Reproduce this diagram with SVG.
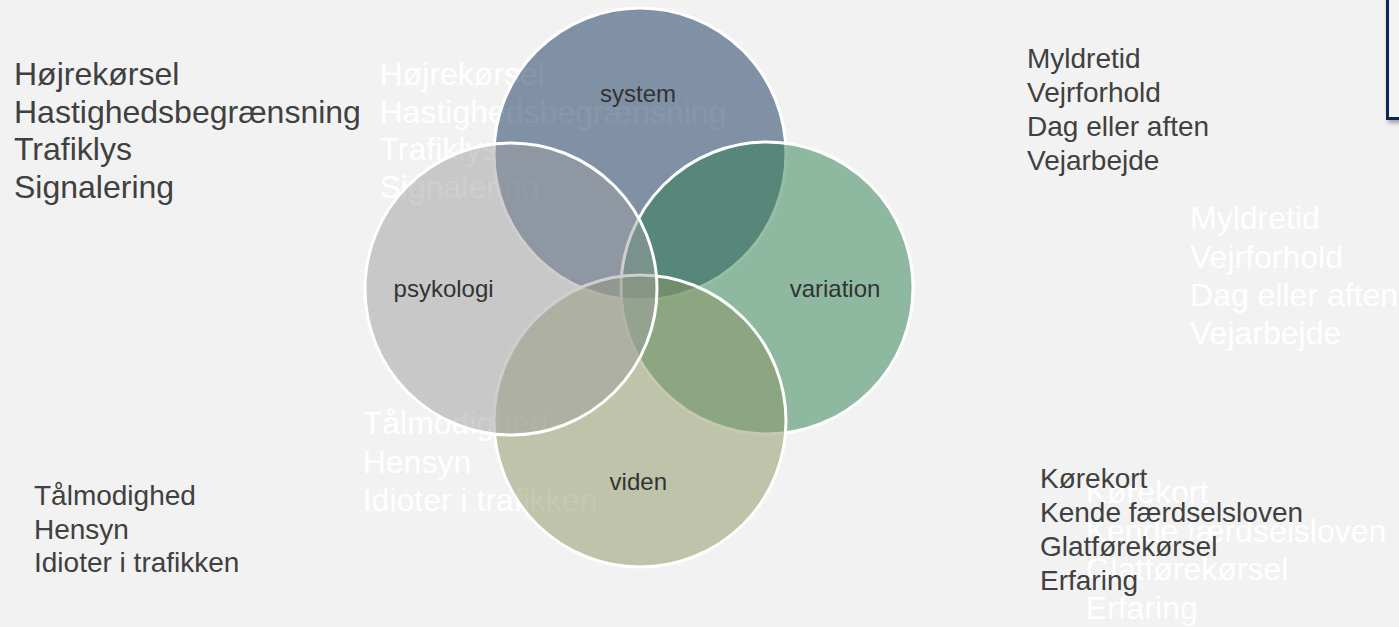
<svg xmlns="http://www.w3.org/2000/svg" width="1399" height="627" viewBox="0 0 1399 627">
  <defs>
    <style>
      .t { font-family: "Liberation Sans", Arial, sans-serif; }
      .dark { fill: #404040; }
      .ghost { fill: #ffffff; font-size: 32px; }
      .big { font-size: 32px; }
      .mid { font-size: 28px; }
      .lbl { font-family: "Liberation Sans", Arial, sans-serif; font-size: 24px; fill: #333333; text-anchor: middle; }
      .ring { stroke: #ffffff; stroke-width: 3; fill-opacity: 0.5; }
    </style>
    <filter id="shadow" x="-50%" y="-50%" width="200%" height="200%">
      <feGaussianBlur in="SourceAlpha" stdDeviation="2"/>
      <feOffset dx="2" dy="3" result="b"/>
      <feComponentTransfer><feFuncA type="linear" slope="0.35"/></feComponentTransfer>
      <feMerge><feMergeNode/><feMergeNode in="SourceGraphic"/></feMerge>
    </filter>
  </defs>

  <rect width="1399" height="627" fill="#f2f2f2"/>

  <!-- corner panel -->
  <g id="panel">
    <rect x="1387.5" y="-10" width="30" height="128.5" fill="#f4f4f4" stroke="#10285a" stroke-width="3" filter="url(#shadow)"/>
  </g>

  <!-- light echo lists, sitting beneath the circles -->
  <g id="ghost-lists" class="t ghost">
    <text x="379.5"><tspan x="379.5" y="85">Højrekørsel</tspan><tspan x="379.5" y="122.7">Hastighedsbegrænsning</tspan><tspan x="379.5" y="160.4">Trafiklys</tspan><tspan x="379.5" y="198.1">Signalering</tspan></text>
    <text x="1190"><tspan x="1190" y="229.3">Myldretid</tspan><tspan x="1190" y="267.5">Vejrforhold</tspan><tspan x="1190" y="305.7">Dag eller aften</tspan><tspan x="1190" y="344">Vejarbejde</tspan></text>
    <text x="362.7"><tspan x="362.7" y="434.3">Tålmodighed</tspan><tspan x="362.7" y="472.5">Hensyn</tspan><tspan x="362.7" y="510.7">Idioter i trafikken</tspan></text>
    <text x="1085.7"><tspan x="1085.7" y="503.3">Kørekort</tspan><tspan x="1085.7" y="541.8">Kende færdselsloven</tspan><tspan x="1085.7" y="580.3">Glatførekørsel</tspan><tspan x="1085.7" y="618.8">Erfaring</tspan></text>
  </g>

  <!-- Venn circles -->
  <g id="system">
    <circle class="ring" cx="640" cy="154" r="146" fill="#0e305a"/>
  </g>
  <g id="variation">
    <circle class="ring" cx="767" cy="288" r="146" fill="#2c7e4e"/>
  </g>
  <g id="viden">
    <circle class="ring" cx="640" cy="421" r="146" fill="#8a9462"/>
  </g>
  <g id="psykologi">
    <circle class="ring" cx="511" cy="289" r="146" fill="#9e9e9e"/>
  </g>

  <g id="labels">
    <text class="lbl" x="638" y="101.5">system</text>
    <text class="lbl" x="443.6" y="296.7">psykologi</text>
    <text class="lbl" x="835" y="296.7">variation</text>
    <text class="lbl" x="638.3" y="490">viden</text>
  </g>

  <!-- connectors: none in this figure -->
  <g id="connectors"/>

  <!-- dark lists -->
  <g id="list-system" class="t dark big">
    <text x="14"><tspan x="14" y="85">Højrekørsel</tspan><tspan x="14" y="122.7">Hastighedsbegrænsning</tspan><tspan x="14" y="160.4">Trafiklys</tspan><tspan x="14" y="198.1">Signalering</tspan></text>
  </g>
  <g id="list-variation" class="t dark mid">
    <text x="1027"><tspan x="1027" y="68.3">Myldretid</tspan><tspan x="1027" y="102.2">Vejrforhold</tspan><tspan x="1027" y="136.1">Dag eller aften</tspan><tspan x="1027" y="170">Vejarbejde</tspan></text>
  </g>
  <g id="list-psykologi" class="t dark mid">
    <text x="34"><tspan x="34" y="505">Tålmodighed</tspan><tspan x="34" y="538.6">Hensyn</tspan><tspan x="34" y="572.2">Idioter i trafikken</tspan></text>
  </g>
  <g id="list-viden" class="t dark mid">
    <text x="1040"><tspan x="1040" y="488.3">Kørekort</tspan><tspan x="1040" y="522.2">Kende færdselsloven</tspan><tspan x="1040" y="556.1">Glatførekørsel</tspan><tspan x="1040" y="590">Erfaring</tspan></text>
  </g>
</svg>
